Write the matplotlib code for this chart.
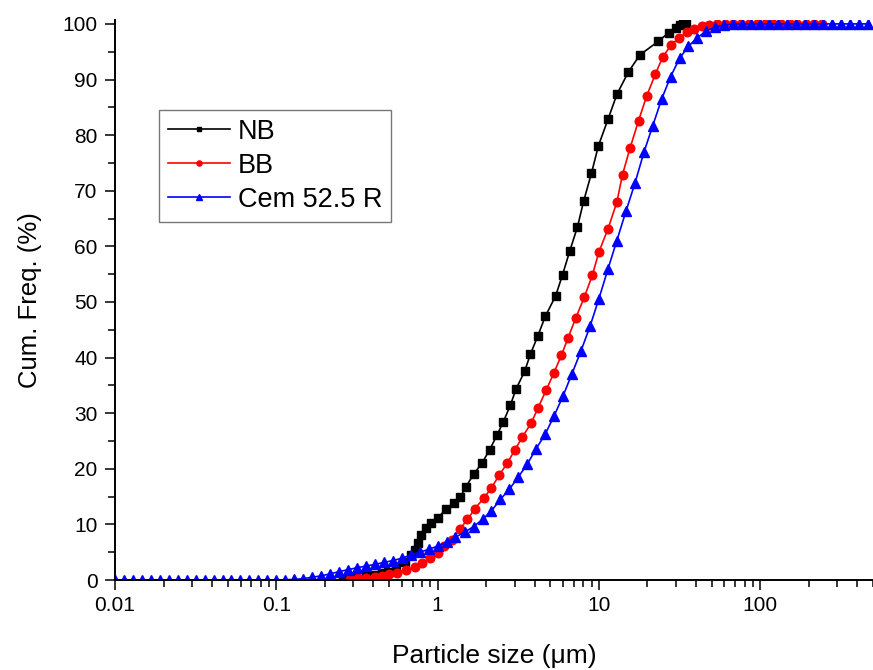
import numpy as np
import matplotlib
matplotlib.use('Agg')
import matplotlib.pyplot as plt
from matplotlib.ticker import MultipleLocator, LogLocator, NullFormatter, FixedLocator, FixedFormatter

plt.rcParams['font.family'] = ['Liberation Sans', 'DejaVu Sans']

# NB (black squares)
nb_size = [0.259, 0.306, 0.362, 0.407, 0.45, 0.492, 0.555, 0.625, 0.687, 0.721,
           0.755, 0.793, 0.843, 0.914, 1.004, 1.13, 1.256, 1.38, 1.50, 1.67,
           1.89, 2.10, 2.33, 2.56, 2.82, 3.07, 3.46, 3.76, 4.18, 4.65,
           5.39, 5.95, 6.6, 7.36, 8.05, 8.98, 9.93, 11.4, 12.95, 15.2,
           17.9, 23.4, 27.0, 30.0, 31.8, 33.3, 34.6]
nb_cum = [0.2, 0.5, 0.7, 0.9, 1.2, 1.5, 2.1, 3.3, 4.5, 5.4,
          6.6, 8.1, 9.4, 10.2, 11.2, 12.8, 13.9, 14.9, 16.8, 19.0,
          21.1, 23.4, 26.0, 28.5, 31.4, 34.4, 37.5, 40.6, 43.9, 47.4,
          51.1, 54.9, 59.2, 63.5, 68.2, 73.1, 78.1, 82.9, 87.4, 91.3,
          94.4, 96.9, 98.4, 99.3, 99.8, 100.0, 100.0]

# BB (red circles)
bb_size = [0.285, 0.32, 0.36, 0.41, 0.45, 0.50, 0.56, 0.64, 0.72, 0.80,
           0.90, 1.0, 1.1, 1.23, 1.37, 1.53, 1.7, 1.93, 2.15, 2.4,
           2.7, 3.0, 3.35, 3.8, 4.2, 4.7, 5.25, 5.85, 6.45, 7.2,
           8.1, 9.1, 10.0, 11.4, 12.9, 14.0, 15.6, 17.6, 19.8, 22.4,
           24.8, 28.0, 31.4, 35.4, 39.0, 43.5, 48.0, 53.8, 60.4, 67.8,
           76.0, 85.3, 95.7, 107, 120, 135, 152, 170, 191, 214, 240]
bb_cum = [0.2, 0.3, 0.4, 0.6, 0.7, 1.0, 1.3, 1.8, 2.4, 3.0,
          3.9, 4.9, 6.1, 7.2, 9.1, 10.9, 12.8, 14.7, 16.5, 18.8,
          21.0, 23.3, 25.7, 28.2, 31.0, 34.1, 37.2, 40.4, 43.6, 47.2,
          50.8, 54.8, 59.0, 63.2, 67.9, 72.9, 77.7, 82.6, 87.1, 91.0,
          94.0, 96.2, 97.5, 98.6, 99.1, 99.6, 99.8, 99.9, 100.0, 100.0,
          100.0, 100.0, 100.0, 100.0, 100.0, 100.0, 100.0, 100.0, 100.0, 100.0, 100.0]

# Cem 52.5 R (blue triangles)
cem_size = [0.0100, 0.0114, 0.0129, 0.0147, 0.0167, 0.0190, 0.0215, 0.0245, 0.0278,
            0.0316, 0.0359, 0.0408, 0.0464, 0.0527, 0.0599, 0.0681, 0.0774, 0.0880,
            0.100, 0.114, 0.129, 0.147, 0.167, 0.190, 0.215, 0.245, 0.278,
            0.316, 0.359, 0.408, 0.464, 0.527, 0.599, 0.681, 0.774, 0.880,
            1.00, 1.14, 1.29, 1.47, 1.67, 1.90, 2.15, 2.45, 2.78,
            3.16, 3.59, 4.08, 4.64, 5.27, 5.99, 6.81, 7.74, 8.80,
            10.0, 11.4, 12.9, 14.7, 16.7, 19.0, 21.5, 24.5, 27.8,
            31.6, 35.9, 40.8, 46.4, 52.7, 59.9, 68.1, 77.4, 88.0,
            100, 114, 129, 147, 167, 190, 215, 245, 278,
            316, 359, 408, 464]
cem_cum = [0, 0, 0, 0, 0, 0, 0, 0, 0,
           0, 0, 0, 0, 0, 0, 0, 0, 0,
           0, 0.05, 0.1, 0.25, 0.5, 0.75, 1.1, 1.5, 1.85,
           2.2, 2.5, 2.8, 3.15, 3.5, 3.9, 4.5, 5.0, 5.5,
           6.1, 6.8, 7.7, 8.6, 9.6, 10.9, 12.4, 14.5, 16.3,
           18.5, 20.8, 23.6, 26.2, 29.5, 33.1, 37.1, 41.2, 45.6,
           50.6, 56.0, 61.0, 66.3, 71.3, 76.9, 81.6, 86.5, 90.5,
           93.8, 96.0, 97.5, 98.8, 99.4, 99.8, 100, 100, 100,
           100, 100, 100, 100, 100, 100, 100, 100, 100,
           100, 100, 100, 100]

x_ticks = [0.01, 0.1, 1, 10, 100]
x_ticklabels = ['0.01', '0.1', '1', '10', '100']

fig = plt.figure(figsize=(8.73, 6.70), dpi=100)
ax = fig.add_axes([115/873, 1-580/670, 1-115/873, (580-20)/670])

ax.plot(nb_size, nb_cum, color='black', lw=1.2, marker='s', ms=5.5, label='NB')
ax.plot(bb_size, bb_cum, color='#ff0000', lw=1.2, marker='o', ms=6.2, label='BB')
ax.plot(cem_size, cem_cum, color='#0000ff', lw=1.2, marker='^', ms=6.8, label='Cem 52.5 R')

ax.set_xscale('log')
ax.set_xlim(0.01, 500)
ax.set_ylim(0, 100.7)
ax.xaxis.set_major_locator(FixedLocator(x_ticks))
ax.xaxis.set_major_formatter(FixedFormatter(x_ticklabels))
ax.xaxis.set_minor_locator(LogLocator(base=10, subs=np.arange(2, 10)))
ax.xaxis.set_minor_formatter(NullFormatter())
ax.yaxis.set_major_locator(MultipleLocator(10))
ax.yaxis.set_minor_locator(MultipleLocator(5))

for s in ['top', 'right']:
    ax.spines[s].set_visible(False)
for s in ['left', 'bottom']:
    ax.spines[s].set_linewidth(1.4)

ax.tick_params(which='major', direction='out', length=7.5, width=1.1, labelsize=15, pad=4)
ax.tick_params(which='minor', direction='out', length=5, width=1.1)
ax.tick_params(axis='y', which='major', pad=5)

ax.set_xlabel('Particle size (\u03bcm)', fontsize=19, labelpad=21)
ax.set_ylabel('Cum. Freq. (%)', fontsize=18.5, labelpad=15)

leg = ax.legend(loc='upper left', bbox_to_anchor=(159/873, 1-110/670),
                bbox_transform=fig.transFigure, fontsize=19.5, frameon=True,
                fancybox=False, edgecolor='#555555', borderaxespad=0,
                handlelength=2.3, handletextpad=0.3, labelspacing=0.3,
                borderpad=0.32, markerscale=0.6)
leg.get_frame().set_linewidth(1.0)

fig.savefig('out.png', dpi=100)
